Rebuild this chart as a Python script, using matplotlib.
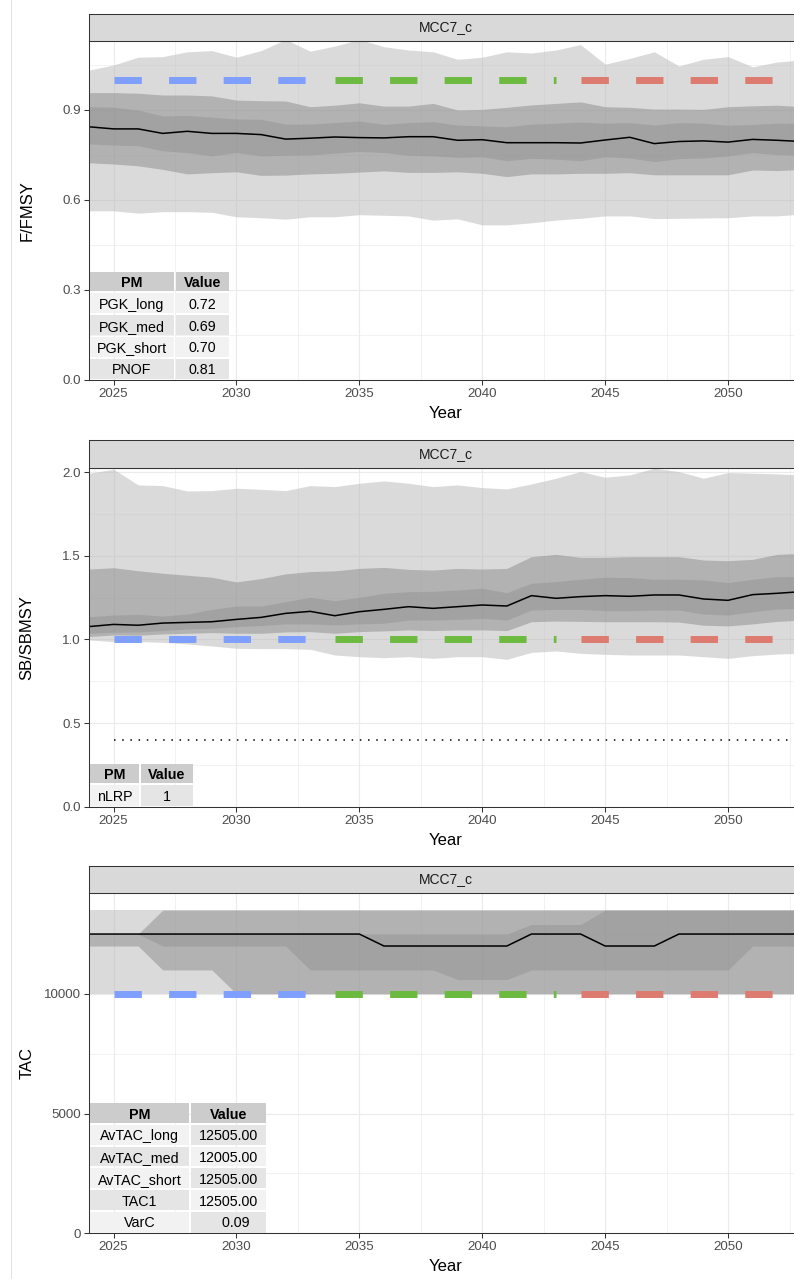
import numpy as np
import matplotlib
matplotlib.use("Agg")
import matplotlib.pyplot as plt
from matplotlib.patches import Rectangle
from matplotlib.lines import Line2D

plt.rcParams['font.family'] = ['Liberation Sans', 'DejaVu Sans']
plt.rcParams['lines.scale_dashes'] = False

## ---------------- data ----------------
years = np.arange(2024, 2054)
mp_name = "MCC7_c"

# F/FMSY
f_med = [0.844, 0.837, 0.837, 0.822, 0.829, 0.822, 0.822, 0.818, 0.803, 0.806,
         0.810, 0.808, 0.807, 0.811, 0.811, 0.799, 0.801, 0.791, 0.791, 0.791,
         0.790, 0.800, 0.809, 0.788, 0.795, 0.797, 0.793, 0.802, 0.799, 0.795]
f_outer_hi = [1.033, 1.050, 1.076, 1.078, 1.094, 1.098, 1.076, 1.098, 1.135, 1.096,
              1.113, 1.135, 1.111, 1.100, 1.094, 1.069, 1.076, 1.094, 1.090, 1.100,
              1.118, 1.053, 1.072, 1.094, 1.047, 1.069, 1.078, 1.044, 1.060, 1.067]
f_outer_lo = [0.564, 0.564, 0.556, 0.561, 0.561, 0.559, 0.544, 0.541, 0.536, 0.544,
              0.544, 0.551, 0.549, 0.547, 0.533, 0.537, 0.517, 0.517, 0.524, 0.533,
              0.539, 0.547, 0.547, 0.538, 0.539, 0.540, 0.541, 0.547, 0.547, 0.553]
f_mid_hi = [0.958, 0.958, 0.956, 0.950, 0.950, 0.947, 0.933, 0.931, 0.930, 0.911,
            0.916, 0.924, 0.913, 0.913, 0.922, 0.900, 0.902, 0.909, 0.917, 0.922,
            0.927, 0.911, 0.909, 0.903, 0.903, 0.902, 0.911, 0.914, 0.916, 0.911]
f_mid_lo = [0.724, 0.720, 0.714, 0.702, 0.687, 0.691, 0.694, 0.682, 0.683, 0.687,
            0.689, 0.693, 0.697, 0.692, 0.692, 0.694, 0.689, 0.678, 0.687, 0.687,
            0.689, 0.689, 0.691, 0.684, 0.684, 0.684, 0.684, 0.700, 0.698, 0.702]
f_in_hi = [0.911, 0.909, 0.900, 0.880, 0.882, 0.876, 0.870, 0.869, 0.853, 0.853,
           0.858, 0.863, 0.852, 0.858, 0.861, 0.850, 0.847, 0.844, 0.853, 0.856,
           0.860, 0.856, 0.858, 0.850, 0.858, 0.856, 0.849, 0.852, 0.856, 0.856]
f_in_lo = [0.787, 0.783, 0.781, 0.764, 0.758, 0.747, 0.758, 0.747, 0.749, 0.750,
           0.756, 0.762, 0.758, 0.749, 0.747, 0.742, 0.744, 0.731, 0.739, 0.736,
           0.731, 0.744, 0.740, 0.728, 0.738, 0.740, 0.747, 0.758, 0.751, 0.749]

# SB/SBMSY
sb_med = [1.077, 1.090, 1.085, 1.098, 1.102, 1.106, 1.120, 1.132, 1.156, 1.168,
          1.142, 1.166, 1.180, 1.196, 1.186, 1.196, 1.206, 1.200, 1.262, 1.246,
          1.256, 1.262, 1.258, 1.266, 1.266, 1.242, 1.234, 1.268, 1.276, 1.286]
sb_outer_hi = [1.994, 2.018, 1.924, 1.920, 1.888, 1.890, 1.904, 1.898, 1.890, 1.920,
               1.914, 1.934, 1.948, 1.934, 1.914, 1.924, 1.908, 1.900, 1.930, 1.964,
               2.004, 1.970, 1.984, 2.024, 2.004, 1.964, 1.998, 1.994, 1.990, 1.984]
sb_outer_lo = [0.997, 0.987, 0.987, 0.983, 0.973, 0.961, 0.947, 0.945, 0.945, 0.941,
               0.907, 0.897, 0.891, 0.897, 0.887, 0.897, 0.897, 0.881, 0.923, 0.931,
               0.917, 0.911, 0.907, 0.907, 0.907, 0.897, 0.887, 0.903, 0.913, 0.917]
sb_mid_hi = [1.421, 1.429, 1.411, 1.396, 1.384, 1.372, 1.344, 1.364, 1.392, 1.406,
             1.410, 1.425, 1.431, 1.419, 1.415, 1.425, 1.421, 1.425, 1.495, 1.509,
             1.491, 1.491, 1.495, 1.495, 1.495, 1.475, 1.471, 1.479, 1.509, 1.515]
sb_mid_lo = [1.017, 1.027, 1.025, 1.033, 1.037, 1.041, 1.037, 1.037, 1.045, 1.047,
             1.037, 1.047, 1.051, 1.057, 1.053, 1.057, 1.057, 1.053, 1.106, 1.110,
             1.108, 1.106, 1.106, 1.106, 1.104, 1.085, 1.081, 1.093, 1.108, 1.116]
sb_in_hi = [1.136, 1.146, 1.150, 1.140, 1.152, 1.180, 1.200, 1.200, 1.226, 1.252,
            1.232, 1.252, 1.276, 1.286, 1.288, 1.296, 1.306, 1.280, 1.336, 1.346,
            1.360, 1.372, 1.370, 1.360, 1.360, 1.356, 1.340, 1.360, 1.376, 1.376]
sb_in_lo = [1.037, 1.043, 1.045, 1.053, 1.063, 1.067, 1.077, 1.083, 1.093, 1.093,
            1.087, 1.093, 1.097, 1.116, 1.116, 1.120, 1.126, 1.116, 1.176, 1.180,
            1.180, 1.172, 1.172, 1.176, 1.176, 1.152, 1.146, 1.166, 1.182, 1.186]
lrp = 0.4

# TAC
tac_med = [12505] * 12 + [12005] * 6 + [12505] * 3 + [12005] * 3 + [12505] * 6
tac_outer_hi = [13505] * 30
tac_outer_lo = [10005] * 30
tac_mid_hi = [12505] * 3 + [13505] * 27
tac_mid_lo = [12005] * 3 + [11005] * 3 + [10005] * 24
tac_in_hi = [12505] * 18 + [12905] * 3 + [13505] * 9
tac_in_lo = [12505] * 3 + [12005] * 6 + [11005] * 6 + [10605] * 3 + [11005] * 9 + [12005] * 3

# reference line split by period
ref_periods = [(2025, 2033), (2034, 2043), (2044, 2053)]
ref_colors = ['#7F9FFF', '#6DBA41', '#DE7B70']

# performance metric tables
f_pm = ['PGK_long', 'PGK_med', 'PGK_short', 'PNOF']
f_val = ['0.72', '0.69', '0.70', '0.81']
sb_pm = ['nLRP']
sb_val = ['1']
tac_pm = ['AvTAC_long', 'AvTAC_med', 'AvTAC_short', 'TAC1', 'VarC']
tac_val = ['12505.00', '12005.00', '12505.00', '12505.00', '    0.09']

## ---------------- figure ----------------
W, H = 794, 1279
fig = plt.figure(figsize=(W / 100, H / 100), dpi=100)

def fx(px):
    return px / W

def fy(py):
    return 1 - py / H

LEFT, RIGHT = 89, 801.8

# faint vertical line on the far left
fig.add_artist(Line2D([fx(10.5), fx(10.5)], [0, 1], color='#E3E3E3', lw=0.8))


def draw_table(x_cols, y_bottom, pm, val):
    row_h = 21.75
    gap = 1.0
    rows = [('PM', 'Value')] + list(zip(pm, val))
    n = len(rows)
    top = y_bottom - n * row_h
    body_fill = ['#F2F2F2', '#E5E5E5']
    k = 0
    for c in range(2):
        xa = x_cols[c] + (0.6 if c == 0 else gap)
        xb = x_cols[c + 1] - gap
        for r in range(n):
            ya = top + r * row_h + gap
            yb = top + (r + 1) * row_h - (0.2 if r == n - 1 else gap)
            if r == 0:
                fc = '#CCCCCC'
            else:
                fc = body_fill[k % 2]
                k += 1
            rect = Rectangle((fx(xa), fy(yb)), fx(xb) - fx(xa), (yb - ya) / H,
                             transform=fig.transFigure, facecolor=fc, lw=0)
            fig.add_artist(rect)
            fig.text(fx((x_cols[c] + x_cols[c + 1]) / 2), fy(top + (r + 0.5) * row_h),
                     rows[r][c], ha='center', va='center_baseline', fontsize=10.3,
                     fontweight='bold' if r == 0 else 'normal', color='black')


def draw_panel(top, bottom, ylim, yticks, ylabels, yminor, ylabel, med, bands,
               ref, pm, val, x_cols, dotted=None):
    ax = fig.add_axes([fx(LEFT), fy(bottom), fx(RIGHT) - fx(LEFT), (bottom - top) / H])
    ax.set_xlim(2024, 2053)
    ax.set_ylim(*ylim)

    # ribbons, widest first (semi-transparent greys)
    fills = ['#B7B7B7', '#8B8B8B', '#939393']
    for (lo, hi), c in zip(bands, fills):
        ax.fill_between(years, lo, hi, color=c, alpha=0.5, lw=0)

    ax.plot(years, med, color='black', lw=1.1, zorder=4)

    for (x0, x1), c in zip(ref_periods, ref_colors):
        ax.plot([x0, x1], [ref, ref], color=c, lw=5.0, dashes=(19.7, 19.6),
                dash_capstyle='butt', solid_capstyle='butt', zorder=5)
    if dotted is not None:
        ax.plot([2025, 2053], [dotted, dotted], color='black', lw=1.1,
                dashes=(1.1, 4.8), dash_capstyle='butt', zorder=5)

    ax.set_xticks([2025, 2030, 2035, 2040, 2045, 2050])
    ax.set_xticks([2027.5, 2032.5, 2037.5, 2042.5, 2047.5, 2052.5], minor=True)
    ax.set_yticks(yticks)
    ax.set_yticklabels(ylabels)
    ax.set_yticks(yminor, minor=True)
    ax.grid(which='major', color='#EBEBEB', lw=0.8)
    ax.grid(which='minor', color='#EBEBEB', lw=0.45)
    ax.set_axisbelow(True)
    ax.tick_params(which='major', length=3.6, width=0.75, color='#333333',
                   labelsize=9.6, labelcolor='#4D4D4D', pad=2.2)
    ax.tick_params(which='minor', length=0)
    for s in ax.spines.values():
        s.set_color('#333333')
        s.set_linewidth(0.75)
        s.set_zorder(10)

    # facet strip
    sax = fig.add_axes([fx(LEFT), fy(top), fx(RIGHT) - fx(LEFT), 27.5 / H])
    sax.set_facecolor('#D9D9D9')
    sax.set_xticks([])
    sax.set_yticks([])
    for s in sax.spines.values():
        s.set_color('#333333')
        s.set_linewidth(0.75)
    fig.text(fx(445.4), fy(top - 13.8), mp_name, ha='center', va='center',
             fontsize=10, color='#1A1A1A')

    fig.text(fx(27), fy((top + bottom) / 2), ylabel, rotation=90, ha='center',
             va='center', fontsize=12, color='black')
    fig.text(fx(445.4), fy(bottom + 38), 'Year', ha='center', va='baseline',
             fontsize=12, color='black')

    draw_table(x_cols, bottom - 0.6, pm, val)
    return ax


draw_panel(41, 380, (0, 1.13), [0, 0.3, 0.6, 0.9], ['0.0', '0.3', '0.6', '0.9'],
           [0.15, 0.45, 0.75, 1.05], 'F/FMSY', f_med,
           [(f_outer_lo, f_outer_hi), (f_mid_lo, f_mid_hi), (f_in_lo, f_in_hi)],
           1.0, f_pm, f_val, [89, 175, 230])

draw_panel(467.7, 806.7, (0, 2.027), [0, 0.5, 1.0, 1.5, 2.0],
           ['0.0', '0.5', '1.0', '1.5', '2.0'], [0.25, 0.75, 1.25, 1.75],
           'SB/SBMSY', sb_med,
           [(sb_outer_lo, sb_outer_hi), (sb_mid_lo, sb_mid_hi), (sb_in_lo, sb_in_hi)],
           1.0, sb_pm, sb_val, [89, 140, 194], dotted=lrp)

draw_panel(893.3, 1233.3, (0, 14208), [0, 5000, 10000], ['0', '5000', '10000'],
           [2500, 7500, 12500], 'TAC', tac_med,
           [(tac_outer_lo, tac_outer_hi), (tac_mid_lo, tac_mid_hi), (tac_in_lo, tac_in_hi)],
           10000, tac_pm, tac_val, [89, 190, 266.5])

fig.savefig('out.png', dpi=100)
